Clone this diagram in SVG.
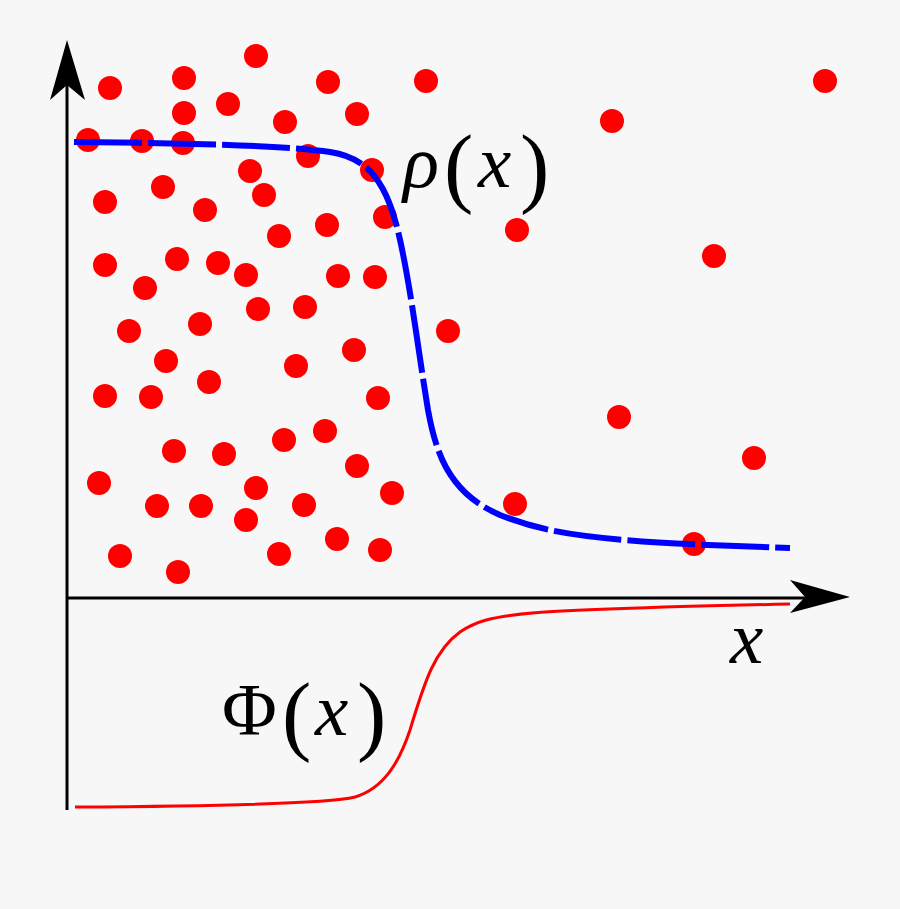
<svg xmlns="http://www.w3.org/2000/svg" width="900" height="909" viewBox="0 0 900 909">
<style>
.dot{fill:#ff0000}
.axis{stroke:#000;stroke-width:3;fill:none}
.head{fill:#000}
.it{font-family:"Liberation Serif","DejaVu Serif",serif;font-style:italic;fill:#000}
.rm{font-family:"Liberation Serif","DejaVu Serif",serif;fill:#000}
</style>
<rect width="900" height="909" fill="#f7f7f7"/>
<g id="dots">
<circle class="dot" cx="110" cy="88" r="12"/>
<circle class="dot" cx="184" cy="78" r="12"/>
<circle class="dot" cx="256" cy="56" r="12"/>
<circle class="dot" cx="328" cy="82" r="12"/>
<circle class="dot" cx="426" cy="81" r="12"/>
<circle class="dot" cx="825" cy="81" r="12"/>
<circle class="dot" cx="184" cy="113" r="12"/>
<circle class="dot" cx="228" cy="104" r="12"/>
<circle class="dot" cx="285" cy="122" r="12"/>
<circle class="dot" cx="357" cy="114" r="12"/>
<circle class="dot" cx="612" cy="121" r="12"/>
<circle class="dot" cx="88" cy="140" r="12"/>
<circle class="dot" cx="142" cy="141" r="12"/>
<circle class="dot" cx="183" cy="143" r="12"/>
<circle class="dot" cx="308" cy="156" r="12"/>
<circle class="dot" cx="250" cy="171" r="12"/>
<circle class="dot" cx="372" cy="170" r="12"/>
<circle class="dot" cx="163" cy="187" r="12"/>
<circle class="dot" cx="264" cy="195" r="12"/>
<circle class="dot" cx="105" cy="202" r="12"/>
<circle class="dot" cx="205" cy="210" r="12"/>
<circle class="dot" cx="385" cy="217" r="12"/>
<circle class="dot" cx="327" cy="225" r="12"/>
<circle class="dot" cx="279" cy="236" r="12"/>
<circle class="dot" cx="517" cy="230" r="12"/>
<circle class="dot" cx="714" cy="256" r="12"/>
<circle class="dot" cx="105" cy="265" r="12"/>
<circle class="dot" cx="177" cy="259" r="12"/>
<circle class="dot" cx="218" cy="263" r="12"/>
<circle class="dot" cx="246" cy="275" r="12"/>
<circle class="dot" cx="338" cy="276" r="12"/>
<circle class="dot" cx="375" cy="277" r="12"/>
<circle class="dot" cx="145" cy="288" r="12"/>
<circle class="dot" cx="258" cy="309" r="12"/>
<circle class="dot" cx="305" cy="307" r="12"/>
<circle class="dot" cx="200" cy="324" r="12"/>
<circle class="dot" cx="129" cy="331" r="12"/>
<circle class="dot" cx="448" cy="331" r="12"/>
<circle class="dot" cx="354" cy="350" r="12"/>
<circle class="dot" cx="166" cy="361" r="12"/>
<circle class="dot" cx="296" cy="366" r="12"/>
<circle class="dot" cx="209" cy="382" r="12"/>
<circle class="dot" cx="105" cy="396" r="12"/>
<circle class="dot" cx="151" cy="397" r="12"/>
<circle class="dot" cx="378" cy="398" r="12"/>
<circle class="dot" cx="619" cy="417" r="12"/>
<circle class="dot" cx="325" cy="431" r="12"/>
<circle class="dot" cx="284" cy="440" r="12"/>
<circle class="dot" cx="174" cy="451" r="12"/>
<circle class="dot" cx="224" cy="454" r="12"/>
<circle class="dot" cx="754" cy="458" r="12"/>
<circle class="dot" cx="357" cy="466" r="12"/>
<circle class="dot" cx="99" cy="483" r="12"/>
<circle class="dot" cx="256" cy="488" r="12"/>
<circle class="dot" cx="392" cy="493" r="12"/>
<circle class="dot" cx="157" cy="506" r="12"/>
<circle class="dot" cx="201" cy="506" r="12"/>
<circle class="dot" cx="304" cy="505" r="12"/>
<circle class="dot" cx="515" cy="504" r="12"/>
<circle class="dot" cx="246" cy="520" r="12"/>
<circle class="dot" cx="337" cy="539" r="12"/>
<circle class="dot" cx="120" cy="556" r="12"/>
<circle class="dot" cx="279" cy="554" r="12"/>
<circle class="dot" cx="380" cy="550" r="12"/>
<circle class="dot" cx="694" cy="544" r="12"/>
<circle class="dot" cx="178" cy="572" r="12"/>
</g>
<g id="axes">
<line class="axis" x1="67" y1="85" x2="67" y2="810"/>
<polygon class="head" points="67,40 85,100 67,85 50,100"/>
<line class="axis" x1="67" y1="598" x2="810" y2="598"/>
<polygon class="head" points="850,597 790,580 805,597 790,613"/>
</g>
<g id="curves">
<path d="M74,142 C200,143 290,146 330,152 C370,158 385,185 395,220 C408,265 418,350 428,410 C438,465 455,495 500,515 C550,535 600,542 790,548" fill="none" stroke="#0000ff" stroke-width="6" stroke-dasharray="68 6"/>
<path d="M75,807 C250,806 330,803 355,797 C385,788 400,760 410,730 C425,680 435,650 460,632 C490,612 520,610 790,604" fill="none" stroke="#ff0000" stroke-width="3"/>
</g>
<g id="labels">
<text class="it" x="403" y="187" font-size="75">ρ</text>
<text class="rm" x="444" y="196" font-size="88">(</text>
<text class="it" x="478" y="187" font-size="75">x</text>
<text class="rm" x="520" y="196" font-size="88">)</text>
<text class="rm" x="222" y="735" font-size="75">Φ</text>
<text class="rm" x="282" y="744" font-size="88">(</text>
<text class="it" x="315" y="735" font-size="75">x</text>
<text class="rm" x="357" y="744" font-size="88">)</text>
<text class="it" x="730" y="663" font-size="75">x</text>
</g>
</svg>
